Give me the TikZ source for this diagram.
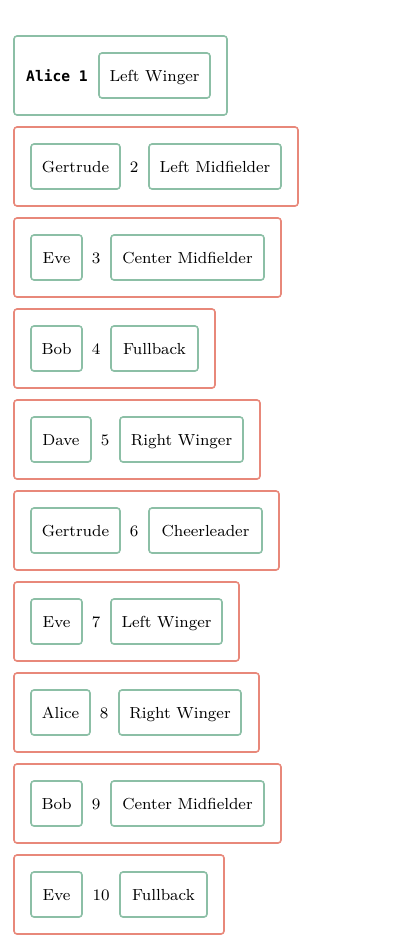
\documentclass[tikz,border=0pt]{standalone}
\usepackage{fontspec}
\newfontfamily\monofont{DejaVu Sans Mono}
\definecolor{grn}{HTML}{8CBFA6}
\definecolor{red}{HTML}{E8887A}
\tikzset{
  txtpos/.style={text height=7pt, text depth=1.2pt},
  box/.style={draw=grn, line width=0.8pt, rounded corners=1.5pt, inner sep=0pt, anchor=center,
    font=\fontsize{8}{9.5}\selectfont, txtpos},
  outerbox/.style={draw=red, line width=0.8pt, rounded corners=1.5pt, inner sep=0pt, anchor=center},
  outergreen/.style={draw=grn, line width=0.8pt, rounded corners=1.5pt, inner sep=0pt, anchor=center},
  numtxt/.style={inner sep=0pt, font=\fontsize{8}{9.5}\selectfont, txtpos},
}
\begin{document}
\begin{tikzpicture}[x=0.5pt,y=-0.5pt]
\useasboundingbox (0,0) rectangle (400,948);
% row 1
\node[outergreen, minimum width=106.5pt, minimum height=39.5pt] (outer1) at (120.5,75.5) {};
\node[inner sep=0pt, font=\monofont\bfseries\fontsize{7.3}{8.5}\selectfont, txtpos] (who1) at (57,75.5) {Alice 1};
\node[box, minimum width=55.5pt, minimum height=22.5pt] (role1) at (154.5,75.5) {Left Winger};
% rows 2-10
\foreach \i/\who/\wend/\nx/\role/\rs/\re/\oe in {
  2/Gertrude/120/134/Left Midfielder/149/281/298,
  3/Eve/82/96/Center Midfielder/111/264/281,
  4/Bob/82/96/Fullback/111/198/215,
  5/Dave/91/105/Right Winger/120/243/260,
  6/Gertrude/120/134/Cheerleader/149/262/279,
  7/Eve/82/96/Left Winger/111/222/239,
  8/Alice/90/104/Right Winger/119/241/259,
  9/Bob/82/96/Center Midfielder/111/264/281,
  10/Eve/82/101/Fullback/120/207/224}{
  \pgfmathsetmacro{\cy}{166.5+91*(\i-2)}
  \pgfmathsetmacro{\ow}{(\oe-14)/2}
  \pgfmathsetmacro{\ocx}{(\oe+14)/2}
  \pgfmathsetmacro{\ww}{(\wend-31)/2}
  \pgfmathsetmacro{\wcx}{(\wend+31)/2}
  \pgfmathsetmacro{\rw}{(\re-\rs)/2}
  \pgfmathsetmacro{\rcx}{(\re+\rs)/2}
  \node[outerbox, minimum width=\ow pt, minimum height=39.5pt] (outer\i) at (\ocx,\cy) {};
  \node[box, minimum width=\ww pt, minimum height=22.5pt] (who\i) at (\wcx,\cy) {\who};
  \node[numtxt] (num\i) at (\nx,\cy) {\i};
  \node[box, minimum width=\rw pt, minimum height=22.5pt] (role\i) at (\rcx,\cy) {\role};
}
\end{tikzpicture}
\end{document}
